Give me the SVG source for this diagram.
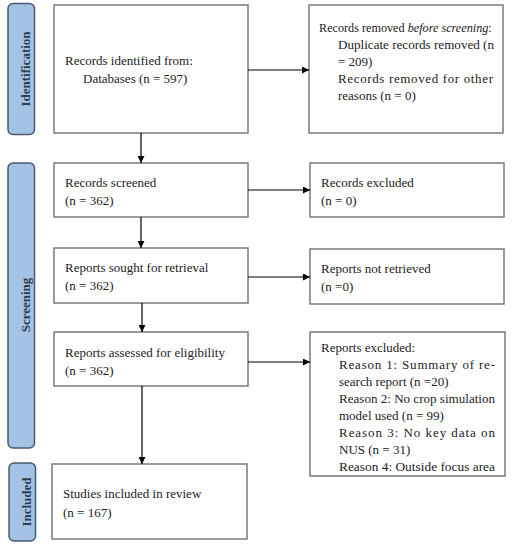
<svg xmlns="http://www.w3.org/2000/svg" width="512" height="550" viewBox="0 0 512 550">
<defs>
<marker id="ah" viewBox="0 0 10 10" refX="10" refY="5" markerWidth="7" markerHeight="7" markerUnits="userSpaceOnUse" orient="auto">
<path d="M0,0 L10,5 L0,10 z" fill="#000"/>
</marker>
<style>
.box{fill:#fff;stroke:#7a7a7a;stroke-width:1.5}
.lab{fill:#a4c2e6;stroke:#4a5a70;stroke-width:1.5}
.lt{font-family:'Liberation Serif','Times New Roman','DejaVu Serif',serif;font-weight:bold;font-size:13px;fill:#2e3b4e;text-anchor:middle}
.t{font-family:'Liberation Serif','Times New Roman','DejaVu Serif',serif;font-size:13px;fill:#222}
.sm{font-size:12.2px}
.c{stroke:#000;stroke-width:1.2;fill:none;marker-end:url(#ah)}
</style>
</defs>
<rect width="512" height="550" fill="#fff"/>
<g id="label-identification">
<rect class="lab" x="8" y="3.5" width="26.5" height="131" rx="5"/>
<text class="lt" transform="translate(30,69) rotate(-90)">Identification</text>
</g>
<g id="label-screening">
<rect class="lab" x="8" y="163" width="26.5" height="285" rx="5"/>
<text class="lt" transform="translate(30,305) rotate(-90)">Screening</text>
</g>
<g id="label-included">
<rect class="lab" x="9" y="463" width="26.5" height="78" rx="5"/>
<text class="lt" transform="translate(31,502) rotate(-90)">Included</text>
</g>
<g id="identified">
<rect class="box" x="54" y="5" width="194" height="128"/>
<text class="t" x="65" y="65">Records identified from:</text>
<text class="t" x="83" y="83">Databases (n = 597)</text>
</g>
<g id="removed">
<rect class="box" x="309" y="5" width="194" height="128"/>
<text class="t sm" x="319" y="32">Records removed <tspan font-style="italic">before screening</tspan>:</text>
<text class="t" x="338" y="49" textLength="156" lengthAdjust="spacingAndGlyphs">Duplicate records removed (n</text>
<text class="t" x="338" y="66">= 209)</text>
<text class="t" x="338" y="83" textLength="155" lengthAdjust="spacing">Records removed for other</text>
<text class="t" x="338" y="100">reasons (n = 0)</text>
</g>
<g id="screened">
<rect class="box" x="54" y="163" width="194" height="54"/>
<text class="t" x="65" y="187">Records screened</text>
<text class="t" x="65" y="205">(n = 362)</text>
</g>
<g id="excluded1">
<rect class="box" x="310" y="163" width="194" height="54"/>
<text class="t" x="321" y="187">Records excluded</text>
<text class="t" x="321" y="205">(n = 0)</text>
</g>
<g id="sought">
<rect class="box" x="54" y="248" width="194" height="55"/>
<text class="t" x="65" y="272">Reports sought for retrieval</text>
<text class="t" x="65" y="290">(n = 362)</text>
</g>
<g id="notretrieved">
<rect class="box" x="310" y="249" width="194" height="55"/>
<text class="t" x="321" y="273">Reports not retrieved</text>
<text class="t" x="321" y="291">(n =0)</text>
</g>
<g id="assessed">
<rect class="box" x="54" y="332" width="194" height="54"/>
<text class="t" x="65" y="357">Reports assessed for eligibility</text>
<text class="t" x="65" y="375">(n = 362)</text>
</g>
<g id="excluded2">
<rect class="box" x="310" y="332" width="195" height="144"/>
<text class="t" x="321" y="352">Reports excluded:</text>
<text class="t" x="339" y="369" textLength="156" lengthAdjust="spacing">Reason 1: Summary of re-</text>
<text class="t" x="339" y="386">search report (n =20)</text>
<text class="t" x="339" y="403" textLength="156" lengthAdjust="spacingAndGlyphs">Reason 2: No crop simulation</text>
<text class="t" x="339" y="420">model used (n = 99)</text>
<text class="t" x="339" y="437" textLength="156" lengthAdjust="spacing">Reason 3: No key data on</text>
<text class="t" x="339" y="454">NUS (n = 31)</text>
<text class="t" x="339" y="471" textLength="156" lengthAdjust="spacingAndGlyphs">Reason 4: Outside focus area</text>
</g>
<g id="included">
<rect class="box" x="52" y="464" width="195" height="75"/>
<text class="t" x="63" y="498">Studies included in review</text>
<text class="t" x="63" y="517">(n = 167)</text>
</g>
<g id="connectors">
<line class="c" x1="141" y1="133" x2="141" y2="163"/>
<line class="c" x1="248" y1="70" x2="309" y2="70"/>
<line class="c" x1="141" y1="217" x2="141" y2="248"/>
<line class="c" x1="248" y1="190" x2="310" y2="190"/>
<line class="c" x1="142" y1="303" x2="142" y2="332"/>
<line class="c" x1="248" y1="277" x2="310" y2="277"/>
<line class="c" x1="142" y1="386" x2="142" y2="464"/>
<line class="c" x1="248" y1="362" x2="310" y2="362"/>
</g>
</svg>
